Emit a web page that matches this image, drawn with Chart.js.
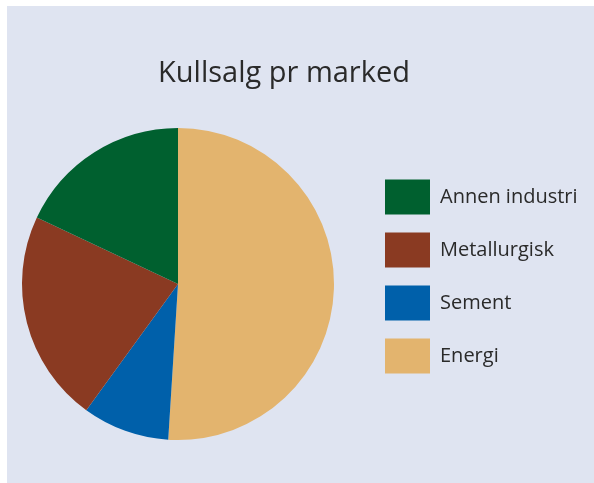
<!DOCTYPE html>
<html>
<head>
<meta charset="utf-8">
<script src="https://cdn.jsdelivr.net/npm/chart.js@4/dist/chart.umd.min.js"></script>
<style>
  html, body { margin: 0; padding: 0; width: 594px; height: 483px; overflow: hidden; background: #fff; }
  #panel { position: absolute; left: 7px; top: 6px; width: 587px; height: 477px; background: #dfe4f1; }
  #kullChart { position: absolute; left: -11px; top: 0; }
</style>
</head>
<body>
<div id="panel"></div>
<canvas id="kullChart" width="605" height="483"></canvas>
<script>
// --- DATA (andeler i %, lest av figuren) ---
const markets = ['Energi', 'Sement', 'Metallurgisk', 'Annen industri'];
const shares = [51, 9, 22, 18];
const colors = ['#e3b46e', '#0060aa', '#8a3a22', '#00602f'];

const ctx = document.getElementById('kullChart').getContext('2d');

const kullChart = new Chart(ctx, {
    type: 'pie',
    data: {
        labels: markets,
        datasets: [{
            data: shares,
            backgroundColor: colors,
            borderWidth: 0,
            hoverOffset: 0,
            radius: 156,
            clip: false
        }]
    },
    options: {
        responsive: false,
        animation: false,
        events: [],
        layout: { padding: { left: 0, right: 15, top: 0, bottom: 76.5 } },
        plugins: {
            title: {
                display: true,
                text: 'Kullsalg pr marked',
                color: '#2a2a2a',
                font: { family: 'Open Sans', size: 29, weight: 'normal' },
                padding: { top: 56, bottom: 70.7 }
            },
            legend: {
                position: 'right',
                align: 'start',
                fullSize: false,
                maxWidth: 212,
                labels: {
                    boxWidth: 45,
                    boxHeight: 35,
                    padding: 18,
                    color: '#2a2a2a',
                    font: { family: 'Open Sans', size: 20 },
                    // legend lists the slices bottom-up
                    sort: (a, b) => b.index - a.index
                }
            },
            tooltip: { enabled: false }
        }
    }
});
</script>
</body>
</html>
